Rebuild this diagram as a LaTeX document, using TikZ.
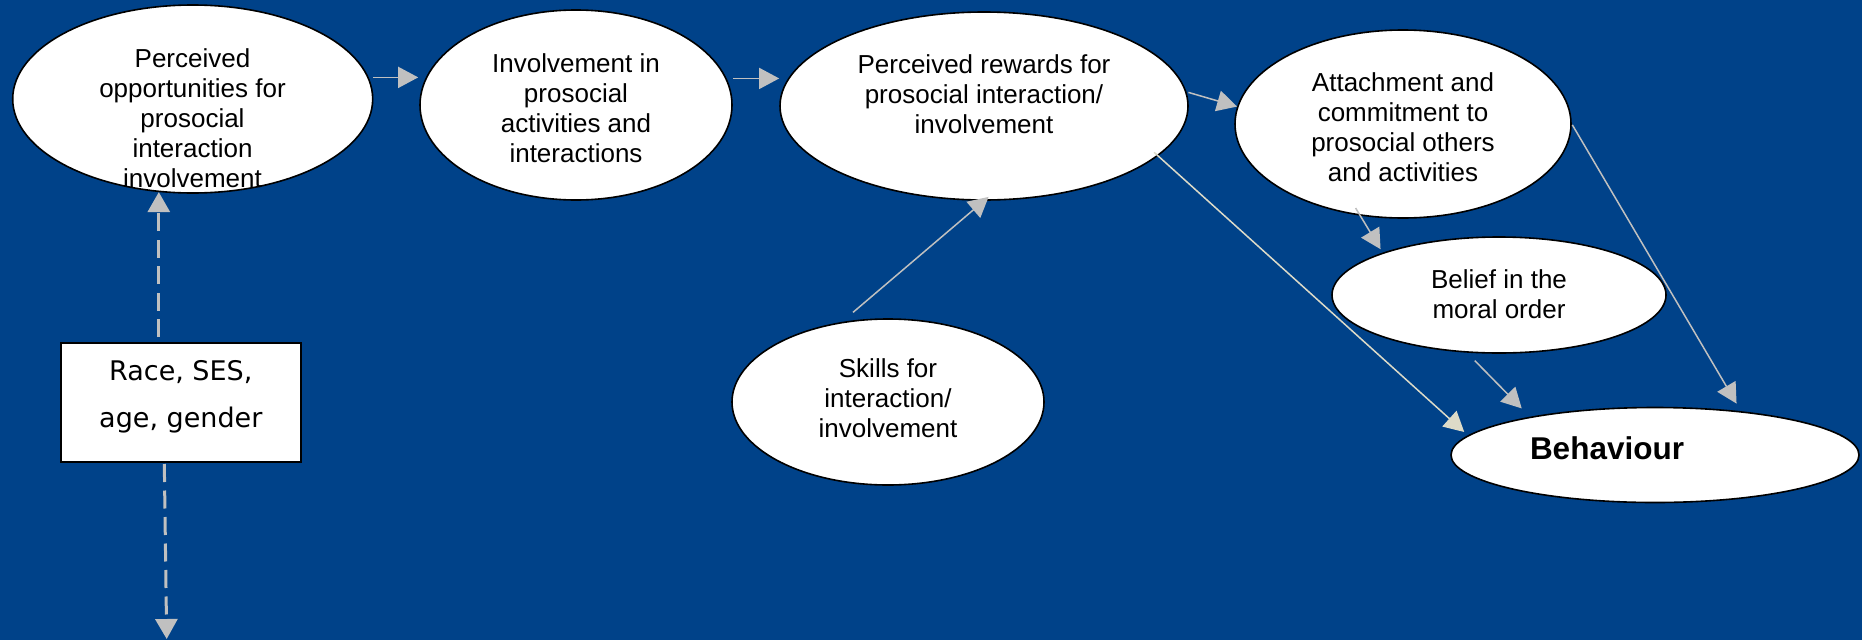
\documentclass[tikz,border=0pt]{standalone}
\usepackage{fontspec}
\setmainfont{Liberation Sans}
\newfontfamily\boxfont{DejaVu Sans}
\usetikzlibrary{arrows.meta,shapes.geometric,calc}
\definecolor{bgblue}{RGB}{0,66,137}
\definecolor{arrgray}{RGB}{192,192,192}
\definecolor{arrbeige}{RGB}{221,219,200}
\begin{document}
\begin{tikzpicture}[x=1pt,y=-1pt,
  oval/.style={ellipse, draw=black, line width=1.6pt, fill=white, inner sep=0pt},
  txt/.style={align=center, font=\fontsize{26}{30}\selectfont, inner sep=0pt, text=black},
  arr/.style={draw=arrgray, line width=1.5pt, -{Triangle[length=20pt,width=21pt]}, arrgray},
  beigearr/.style={draw=arrbeige, line width=1.5pt, -{Triangle[length=20pt,width=21pt]}, arrbeige},
  dasharr/.style={draw=arrgray, line width=3pt, dash pattern=on 18pt off 8.5pt, -{Triangle[length=20pt,width=22pt]}, arrgray}]
\fill[bgblue] (0,0) rectangle (1862,640);
\useasboundingbox (0,0) rectangle (1862,640);

% ellipses
\node[oval, minimum width=360pt, minimum height=188pt] (e1) at (192.7,99) {};
\node[oval, minimum width=312pt, minimum height=190pt] (e2) at (576,105) {};
\node[oval, minimum width=408pt, minimum height=188pt] (e3) at (984,106) {};
\node[oval, minimum width=336pt, minimum height=188pt] (e4) at (1403,124) {};
\node[oval, minimum width=334pt, minimum height=116pt] (e5) at (1499,295) {};
\node[oval, minimum width=408pt, minimum height=95pt] (e6) at (1655,455) {};
\node[oval, minimum width=312pt, minimum height=166pt] (sk) at (888,402) {};
\node[draw=black, line width=2pt, fill=white, minimum width=240pt, minimum height=119pt, inner sep=0pt] (box) at (180.8,402.2) {};

% texts
\node[txt] (e1t) at (192.5,118) {Perceived\\opportunities for\\prosocial\\interaction\\involvement};
\node[txt] (e2t) at (576,108) {Involvement in\\prosocial\\activities and\\interactions};
\node[txt] (e3t) at (984,94) {Perceived rewards for\\prosocial interaction/\\involvement};
\node[txt] (e4t) at (1403,127) {Attachment and\\commitment to\\prosocial others\\and activities};
\node[txt] (e5t) at (1499,294) {Belief in the\\moral order};
\node[txt] (skt) at (888,398) {Skills for\\interaction/\\involvement};
\node[inner sep=0pt, font=\fontsize{31.5}{36}\selectfont\bfseries] (e6t) at (1607,448) {Behaviour};
\node[align=center, inner sep=0pt, font=\boxfont\fontsize{27}{46.7}\selectfont] (boxt) at (180.8,397) {Race, SES,\\age, gender};

% connectors
\draw[arr, shorten <=4.3pt, shorten >=1pt] (e1.7.2) -- (e1.7.2 -| e2.west);
\draw[arr, shorten <=6.6pt] (e2.10.6) -- (e2.10.6 -| e3.west);
\draw[arr, shorten <=2pt] (e3.4.3) -- (e4.174.5);
\draw[beigearr, shorten <=-5.4pt, shorten >=5pt] (e3.-16.4) -- (e6.174.4);
\draw[arr, shorten <=14.7pt, shorten >=-6pt] (sk.120.9) -- (e3.-90.3);
\draw[arr, shorten <=-9pt, shorten >=4pt] (e4.-115.6) -- (e5.160.45);
\draw[arr, shorten <=1pt, shorten >=8.8pt] (e4.0.8) -- (e6.27.5);
\draw[arr, shorten <=11pt, shorten >=11.7pt] (e5.-119) -- (e6.163.3);

\draw[dasharr, shorten <=4.5pt] (box.north -| e1.-110) -- (e1.-110);
\coordinate (dn) at (166.7,639);
\draw[dasharr, shorten <=1.3pt] ([xshift=-16.5pt]box.south) -- (dn);
\end{tikzpicture}
\end{document}
